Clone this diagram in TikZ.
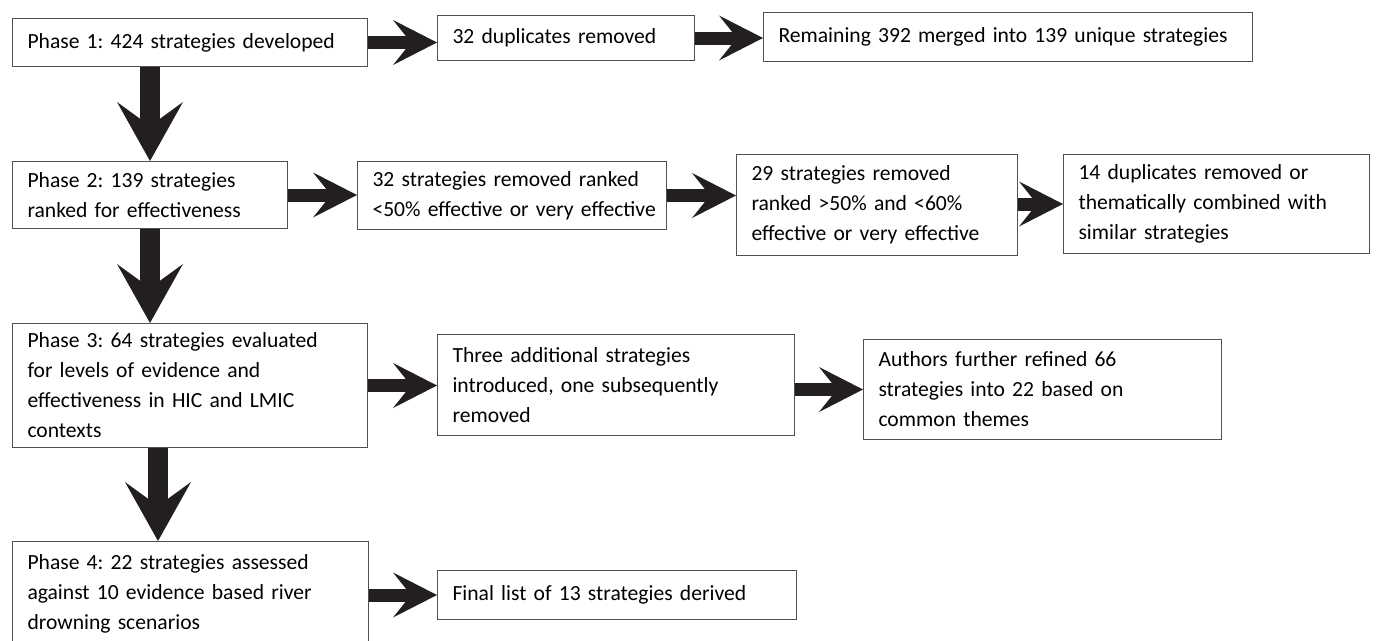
\documentclass[tikz,border=0pt]{standalone}
\usepackage{fontspec}
\setmainfont{Carlito}
\usetikzlibrary{arrows.meta}
\definecolor{arrowgrey}{HTML}{231F20}
\definecolor{boxline}{HTML}{505050}
\frenchspacing

\begin{document}
\begin{tikzpicture}[x=1pt,y=-1pt,
	box/.style={draw=boxline,line width=1pt,anchor=north west,align=left,inner xsep=15pt,inner ysep=0pt,font=\fontsize{21.6}{30}\selectfont},
	harrow/.style={draw=arrowgrey,line width=13pt,-{Stealth[length=44pt,width=45pt,inset=18pt,line width=0pt]}},
	varrow/.style={draw=arrowgrey,line width=20pt,-{Stealth[length=59pt,width=66pt,inset=24pt,line width=0pt]}}]
	\useasboundingbox (0,0) rectangle (1378,640);
	\clip (0,0) rectangle (1378,640);
	\draw (12,18) node(p1) [box,text width=325pt,minimum height=48pt] {Phase 1: 424 strategies developed};
	\draw (437,15) node(dup) [box,text width=227pt,minimum height=45pt] {32 duplicates removed};
	\draw (763,12) node(merge) [box,text width=459pt,minimum height=49pt] {Remaining 392 merged into 139 unique strategies};
	\draw (12,161) node(p2) [box,text width=245pt,minimum height=67pt] {Phase 2: 139 strategies\\ranked for effectiveness};
	\draw (357,161) node(rank50) [box,text width=279pt,minimum height=68pt] {32 strategies removed ranked\\\mbox{<50\% effective or very effective}};
	\draw (736,154) node(rank60) [box,text width=251pt,minimum height=101pt] {29 strategies removed\\ranked >50\% and <60\%\\effective or very effective};
	\draw (1063,154) node(theme) [box,text width=276pt,minimum height=99pt] {14 duplicates removed or\\thematically combined with\\similar strategies};
	\draw (12,323) node(p3) [box,text width=325pt,minimum height=124pt] {Phase 3: 64 strategies evaluated\\for levels of evidence and\\effectiveness in HIC and LMIC\\contexts};
	\draw (437,334) node(extra) [box,text width=327pt,minimum height=101pt] {Three additional strategies\\introduced, one subsequently\\removed};
	\draw (863,339) node(refine) [box,text width=328pt,minimum height=100pt] {Authors further refined 66\\strategies into 22 based on\\common themes};
	\draw (12,541) node(p4) [box,text width=326pt,minimum height=104pt] {Phase 4: 22 strategies assessed\\against 10 evidence based river\\drowning scenarios};
	\draw (437,570) node(final) [box,text width=329pt,minimum height=49pt] {Final list of 13 strategies derived};
	\draw[harrow] (p1.east) -- (p1.east -| dup.west);
	\draw[harrow] (dup.east) -- (dup.east -| merge.west);
	\draw[harrow] (p2.east) -- (p2.east -| rank50.west);
	\draw[harrow] (rank50.east) -- (rank50.east -| rank60.west);
	\draw[harrow] (theme.west -| rank60.east) -- (theme.west);
	\draw[harrow] (p3.east) -- (p3.east -| extra.west);
	\draw[harrow] (refine.west -| extra.east) -- (refine.west);
	\draw[harrow] (final.west -| p4.east) -- (final.west);
	\draw[varrow] ([xshift=-40pt]p1.south) -- ([xshift=-40pt]p1.south |- p2.north);
	\draw[varrow] (p2.south) -- (p2.south |- p3.north);
	\draw[varrow] ([xshift=-32pt]p3.south) -- ([xshift=-32pt]p3.south |- p4.north);
\end{tikzpicture}
\end{document}
